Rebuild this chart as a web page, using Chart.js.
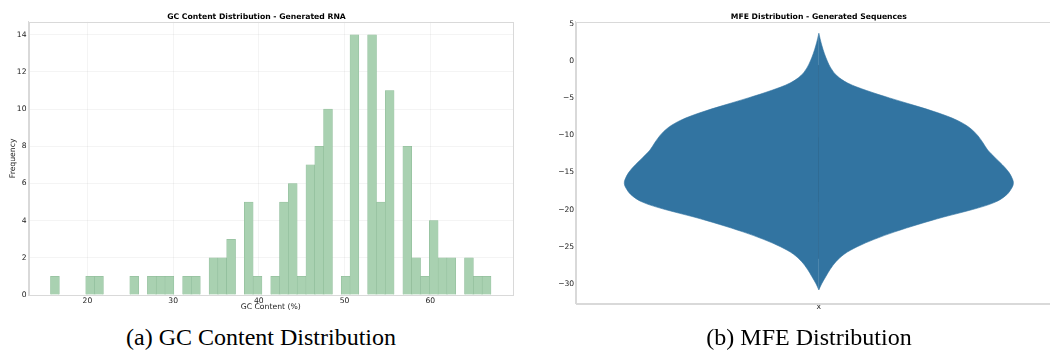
<!DOCTYPE html>
<html>
<head>
<meta charset="utf-8">
<script src="https://cdn.jsdelivr.net/npm/chart.js@4.4.1/dist/chart.umd.min.js"></script>
<style>
  html, body { margin: 0; padding: 0; background: #fff; width: 1050px; height: 350px; overflow: hidden; position: relative; }
  .panel { position: absolute; top: 0; }
  #gcWrap { left: 0; width: 534px; height: 318px; }
  #mfeWrap { left: 530px; width: 535px; height: 318px; }
  .caption { position: absolute; top: 325px; width: 400px; font-family: 'Liberation Serif', 'Times New Roman', serif;
             font-size: 24px; line-height: 24px; color: #000; text-align: center; white-space: nowrap; }
</style>
</head>
<body>
<div class="panel" id="gcWrap"><canvas id="gcChart" width="534" height="318"></canvas></div>
<div class="panel" id="mfeWrap"><canvas id="mfeChart" width="535" height="318"></canvas></div>
<div class="caption" style="left:61px">(a) GC Content Distribution</div>
<div class="caption" style="left:609px">(b) MFE Distribution</div>

<script>
// ---- GC content histogram (50 equal-width bins) ----
const gcBinStart = 15.69;
const gcBinWidth = 1.028;
const gcCounts = [1, 0, 0, 0, 1, 1, 0, 0, 0, 1,
                  0, 1, 1, 1, 0, 1, 1, 0, 2, 2,
                  3, 0, 5, 1, 0, 1, 5, 6, 1, 7,
                  8, 10, 0, 1, 14, 0, 14, 5, 11, 0,
                  8, 2, 1, 4, 2, 2, 0, 2, 1, 1];
const gcPctTicks = [20, 30, 40, 50, 60];
const gcFreqTicks = [0, 2, 4, 6, 8, 10, 12, 14];

// ---- MFE violin: density profile (relative to its peak) along the MFE axis ----
const mfeLevels = [3.7, 3, 2, 1, 0, -1, -2, -3, -4, -5,
                   -6, -7, -8, -9, -10, -11, -12, -13, -14, -15,
                   -16, -16.5, -17, -18, -19, -20, -21, -22, -23, -24,
                   -25, -26, -27, -28, -29, -30, -30.8];
const mfeDensity = [0, 0.006, 0.016, 0.028, 0.043, 0.062, 0.092, 0.148, 0.245, 0.363,
                    0.49, 0.612, 0.71, 0.775, 0.815, 0.843, 0.868, 0.905, 0.944, 0.977,
                    0.997, 1.0, 0.994, 0.966, 0.907, 0.79, 0.642, 0.51, 0.39, 0.285,
                    0.197, 0.13, 0.088, 0.059, 0.036, 0.014, 0];
const mfeBox = { whiskerHigh: -0.6, q3: -10.3, q1: -19.0, whiskerLow: -26.6 };
const mfeTicks = [5, 0, -5, -10, -15, -20, -25, -30];

Chart.defaults.font.family = "'DejaVu Sans', 'Liberation Sans', sans-serif";
Chart.defaults.color = '#333';
Chart.defaults.animation = false;

const SPINE = '#d9d9d9';
const TEXT = '#222';

// thin box around the plotting area
const frame = {
  id: 'frame',
  afterDraw(chart) {
    const a = chart.chartArea, ctx = chart.ctx;
    ctx.save();
    ctx.strokeStyle = SPINE;
    ctx.lineWidth = 1;
    ctx.strokeRect(Math.round(a.left) + 0.5, Math.round(a.top) + 0.5,
                   Math.round(a.right - a.left) - 1, Math.round(a.bottom - a.top));
    ctx.restore();
  }
};

// ---------- Histogram ----------
const gcData = gcCounts.map((c, i) => ({ x: gcBinStart + gcBinWidth * (i + 0.5), y: c }));

new Chart(document.getElementById('gcChart'), {
  type: 'bar',
  data: {
    datasets: [{
      data: gcData,
      backgroundColor: 'rgb(169,209,177)',
      borderColor: 'rgb(138,184,149)',
      borderWidth: { top: 0.5, left: 0.5, right: 0.5, bottom: 0 },
      borderSkipped: false,
      barPercentage: 1,
      categoryPercentage: 1
    }]
  },
  options: {
    responsive: false,
    layout: { padding: { left: 0, right: 21, top: 0, bottom: 0 } },
    plugins: {
      legend: { display: false },
      tooltip: { enabled: false },
      title: {
        display: true,
        text: 'GC Content Distribution - Generated RNA',
        color: '#000',
        font: { size: 7.7, weight: 'bold' },
        padding: { top: 12, bottom: 0.5 }
      }
    },
    scales: {
      x: {
        type: 'linear',
        min: 13.12,
        max: 69.66,
        offset: false,
        afterBuildTicks: s => { s.ticks = gcPctTicks.map(v => ({ value: v })); },
        afterFit: s => { s.height = 23; },
        ticks: { font: { size: 7.6 }, color: TEXT, padding: 1, maxRotation: 0 },
        grid: { color: 'rgba(0,0,0,0.045)', drawTicks: false, offset: false },
        border: { color: SPINE },
        title: { display: true, text: 'GC Content (%)', color: TEXT, font: { size: 7.7 }, padding: { top: 0, bottom: 6.5 } }
      },
      y: {
        type: 'linear',
        min: 0,
        max: 14.7,
        afterBuildTicks: s => { s.ticks = gcFreqTicks.map(v => ({ value: v })); },
        afterFit: s => { s.width = 28.5; },
        ticks: { font: { size: 7.6 }, color: TEXT, padding: 2 },
        grid: { color: 'rgba(0,0,0,0.045)', drawTicks: false },
        border: { color: SPINE },
        title: { display: true, text: 'Frequency', color: TEXT, font: { size: 7.7 }, padding: { top: 8.5, bottom: 0 } }
      }
    }
  },
  plugins: [frame]
});

// ---------- Violin ----------
const VIOLIN_HALF = 0.4;   // half of the violin's width in category units
const rightEdge = mfeLevels.map((v, i) => ({ x: VIOLIN_HALF * mfeDensity[i], y: v }));
const leftEdge = mfeLevels.map((v, i) => ({ x: -VIOLIN_HALF * mfeDensity[i], y: v }));
const VIOLIN_BLUE = '#3274a1';

const edgeStyle = {
  fill: 'origin', backgroundColor: VIOLIN_BLUE, borderColor: VIOLIN_BLUE, borderWidth: 0.6,
  pointRadius: 0, tension: 0.35
};

new Chart(document.getElementById('mfeChart'), {
  type: 'line',
  data: {
    datasets: [
      Object.assign({ data: rightEdge }, edgeStyle),
      Object.assign({ data: leftEdge }, edgeStyle),
      { data: [{ x: 0, y: mfeBox.whiskerHigh }, { x: 0, y: mfeBox.whiskerLow }], fill: false,
        borderColor: 'rgba(45,55,65,0.8)', borderWidth: 1, pointRadius: 0 },
      { data: [{ x: 0, y: mfeBox.q3 }, { x: 0, y: mfeBox.q1 }], fill: false,
        borderColor: 'rgba(35,60,85,0.9)', borderWidth: 2.5, pointRadius: 0 }
    ]
  },
  options: {
    responsive: false,
    indexAxis: 'y',
    layout: { padding: { left: 0, right: 3, top: 0, bottom: 0 } },
    plugins: {
      legend: { display: false },
      tooltip: { enabled: false },
      title: {
        display: true,
        fullSize: false,
        text: 'MFE Distribution - Generated Sequences',
        color: '#000',
        font: { size: 7.7, weight: 'bold' },
        padding: { top: 12, bottom: 0.5 }
      }
    },
    scales: {
      x: {
        type: 'linear',
        min: -0.5,
        max: 0.5,
        afterFit: s => { s.height = 14.7; },
        ticks: { display: false },
        grid: { display: false },
        border: { color: SPINE },
        title: { display: true, text: 'x', color: TEXT, font: { size: 7.7 }, padding: { top: 0, bottom: 5.9 } }
      },
      y: {
        type: 'linear',
        min: -32.6,
        max: 5.24,
        afterBuildTicks: s => { s.ticks = mfeTicks.map(v => ({ value: v })); },
        afterFit: s => { s.width = 45.7; },
        ticks: {
          font: { size: 7.6 }, color: TEXT, padding: 1.5,
          callback: v => (v < 0 ? '\u2212' + Math.abs(v) : String(v))
        },
        grid: { display: false, drawTicks: false },
        border: { color: SPINE }
      }
    }
  },
  plugins: [frame]
});
</script>
</body>
</html>
